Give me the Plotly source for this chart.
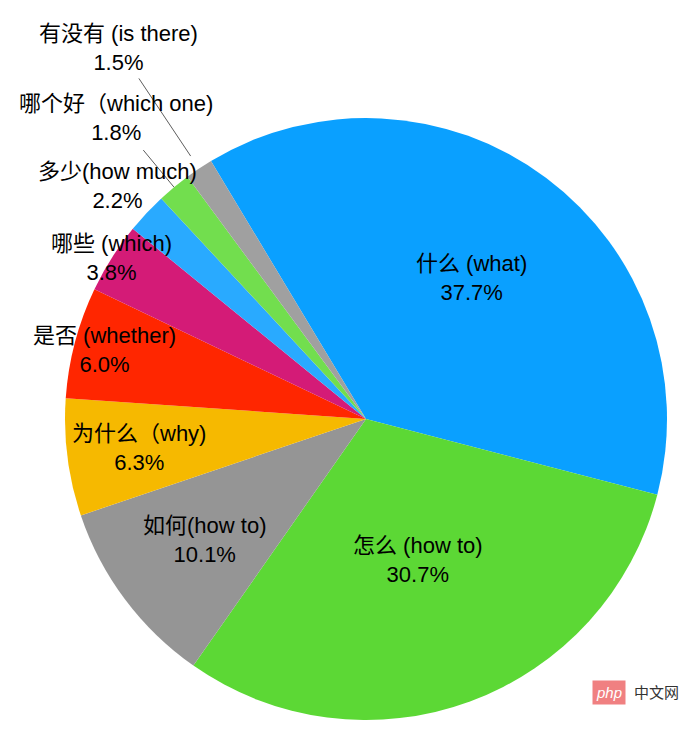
import math
import plotly.graph_objects as go

# question words and their share (%)
labels = ["什么 (what)", "怎么 (how to)", "如何(how to)", "为什么（why)", "是否 (whether)",
          "哪些 (which)", "多少(how much)", "哪个好（which one)", "有没有 (is there)"]
values = [37.7, 30.7, 10.1, 6.3, 6.0, 3.8, 2.2, 1.8, 1.5]
colors = ["#0aa0ff", "#5cd835", "#959595", "#f6b900", "#ff2600",
          "#d41b77", "#29aaff", "#72de4e", "#a0a0a0"]

# page has an 8px body margin, so the figure is a bit smaller than the window
OFF = 8
W, H = 688 - 2 * OFF, 732 - 2 * OFF
M = dict(l=56, r=12, t=110, b=4)
ROT = -31
FONT = "Liberation Sans, Arial, Noto Sans CJK SC"

# label distance from centre, as a fraction of the radius
label_r = [0.585, 0.5, 0.67, 0.76, 0.9, 1.0, 1.13, 1.3, 1.48]
leaders = {7: (1.0, 1.16), 8: (1.05, 1.36)}

pw = W - M["l"] - M["r"]
ph = H - M["t"] - M["b"]
R = min(pw, ph) / 2
cx = M["l"] + pw / 2
cy = M["t"] + ph / 2


def to_paper(px, py):
    # px, py in figure pixels
    return (px - M["l"]) / pw, 1 - (py - M["t"]) / ph


def polar(angle, frac):
    a = math.radians(angle)
    return to_paper(cx + frac * R * math.sin(a), cy - frac * R * math.cos(a))


total = sum(values)
mids = []
acc = ROT
for v in values:
    mids.append(acc + v / total * 180)
    acc += v / total * 360

fig = go.Figure(go.Pie(
    labels=labels,
    values=values,
    marker=dict(colors=colors, line=dict(width=0)),
    sort=False,
    direction="clockwise",
    rotation=ROT,
    textinfo="none",
    hoverinfo="label+percent",
))

annotations = []
for i, (lab, v) in enumerate(zip(labels, values)):
    x, y = polar(mids[i], label_r[i])
    annotations.append(dict(
        x=x, y=y, xref="paper", yref="paper",
        text=f"{lab}<br>{v:.1f}%", showarrow=False,
        font=dict(size=22, color="black", family=FONT),
        xanchor="center", yanchor="middle",
    ))

shapes = []
for i, (r0, r1) in leaders.items():
    x0, y0 = polar(mids[i], r0)
    x1, y1 = polar(mids[i], r1)
    shapes.append(dict(type="line", xref="paper", yref="paper",
                       x0=x0, y0=y0, x1=x1, y1=y1,
                       line=dict(color="#333333", width=0.8)))

# watermark
wx, wy = to_paper(609 - OFF, 692 - OFF)
annotations.append(dict(x=wx, y=wy, xref="paper", yref="paper", showarrow=False,
                        xanchor="center", yanchor="middle",
                        text="<i>php</i>", bgcolor="#f08081", borderpad=3,
                        font=dict(size=15, color="white", family=FONT)))
wx, wy = to_paper(656 - OFF, 692 - OFF)
annotations.append(dict(x=wx, y=wy, xref="paper", yref="paper", showarrow=False,
                        xanchor="center", yanchor="middle",
                        text="中文网", font=dict(size=15, color="#333333", family=FONT)))

fig.update_layout(
    width=W, height=H,
    margin=M,
    showlegend=False,
    paper_bgcolor="white",
    plot_bgcolor="white",
    annotations=annotations,
    shapes=shapes,
    font=dict(family=FONT),
)

fig.write_html("out.html")
